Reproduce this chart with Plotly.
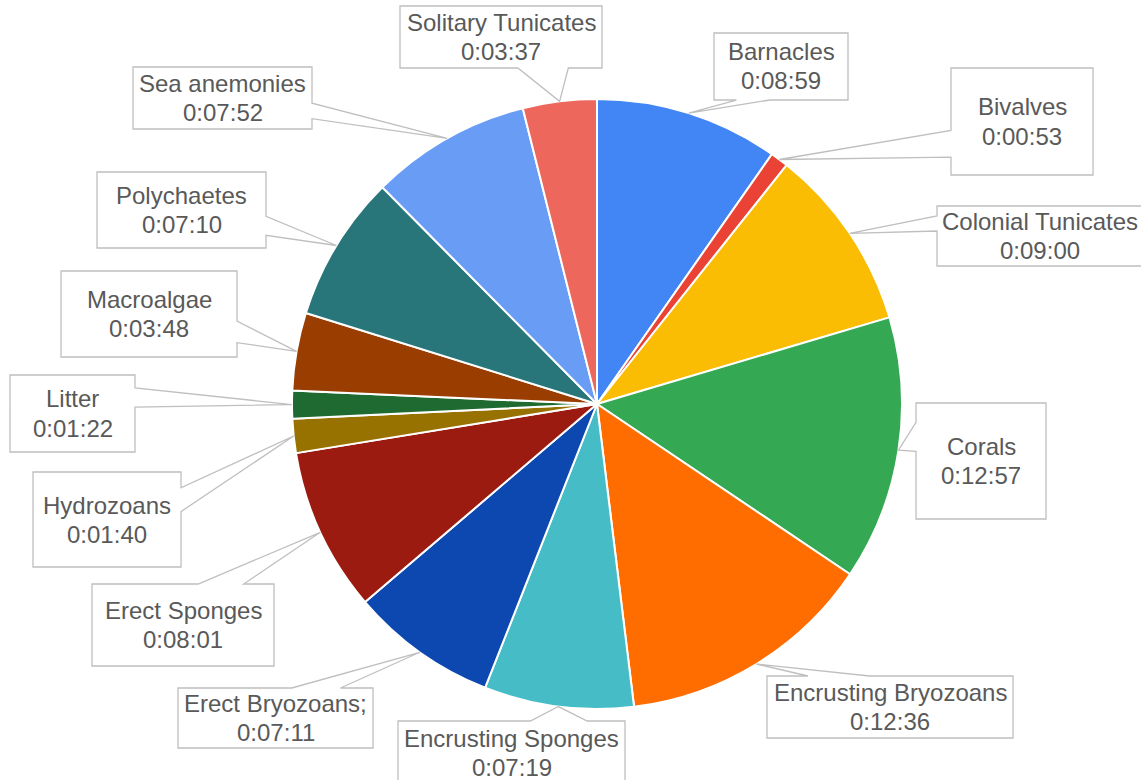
import numpy as np
import plotly.graph_objects as go

# ---------------- data ----------------
categories = ["Barnacles", "Bivalves", "Colonial Tunicates", "Corals",
              "Encrusting Bryozoans", "Encrusting Sponges", "Erect Bryozoans;",
              "Erect Sponges", "Hydrozoans", "Litter", "Macroalgae",
              "Polychaetes", "Sea anemonies", "Solitary Tunicates"]
durations = ["0:08:59", "0:00:53", "0:09:00", "0:12:57", "0:12:36", "0:07:19",
             "0:07:11", "0:08:01", "0:01:40", "0:01:22", "0:03:48", "0:07:10",
             "0:07:52", "0:03:37"]
colors = ["#4285F4", "#EA4335", "#FBBC04", "#34A853", "#FF6D01", "#46BDC6",
          "#0C48B0", "#9B1B11", "#987200", "#1F6A30", "#993E00", "#287679",
          "#699DF5", "#EE675C"]

# label box layout (left, top, right, bottom) in pixels
boxes = [(714, 33, 848, 100), (951, 68, 1093, 175), (937, 206, 1143, 266),
         (916, 403, 1046, 519), (767, 676, 1013, 738), (398, 721, 625, 784),
         (178, 688, 373, 748), (92, 584, 274, 666), (33, 472, 181, 567),
         (10, 375, 135, 452), (61, 271, 237, 357), (97, 172, 266, 248),
         (133, 67, 312, 129), (400, 6, 602, 68)]


def to_seconds(s):
    h, m, sec = (int(p) for p in s.split(":"))
    return h * 3600 + m * 60 + sec


seconds = [to_seconds(d) for d in durations]

# ---------------- layout geometry ----------------
W, H = 1141, 780
CX, CY, R = 597, 404, 305
LINE_GAP = 14.5
FONT = dict(family="Arial, Liberation Sans, sans-serif", size=24, color="#595959")


def px(x):
    return x / W


def py(y):
    return 1 - y / H


fig = go.Figure(go.Pie(
    labels=categories,
    values=seconds,
    sort=False,
    direction="clockwise",
    rotation=0,
    marker=dict(colors=colors, line=dict(color="white", width=2)),
    textinfo="none",
    hoverinfo="label+value",
    showlegend=False,
    domain=dict(x=[px(CX - R), px(CX + R)], y=[py(CY + R), py(CY - R)]),
))

# tip points at the slice mid-angles
vals = np.array(seconds, dtype=float)
cum = np.cumsum(vals)
mid = (cum - vals / 2) / vals.sum() * 2 * np.pi
tips_x = CX + R * np.sin(mid)
tips_y = CY - R * np.cos(mid)


def callout(l, t, r, b, tx, ty):
    w = r - l
    h = b - t
    cx = (l + r) / 2
    cy = (t + b) / 2
    dx = tx - cx
    dy = ty - cy
    vertical = abs(dy) > abs(dx * h / w)
    x1 = l + w * (7 if dx > 0 else 2) / 12
    x2 = l + w * (10 if dx > 0 else 5) / 12
    y1 = t + h * (7 if dy > 0 else 2) / 12
    y2 = t + h * (10 if dy > 0 else 5) / 12
    pts = [(l, t)]
    if vertical and dy < 0:
        pts += [(x1, t), (tx, ty), (x2, t)]
    pts += [(r, t)]
    if (not vertical) and dx > 0:
        pts += [(r, y1), (tx, ty), (r, y2)]
    pts += [(r, b)]
    if vertical and dy > 0:
        pts += [(x2, b), (tx, ty), (x1, b)]
    pts += [(l, b)]
    if (not vertical) and dx <= 0:
        pts += [(l, y2), (tx, ty), (l, y1)]
    return pts


shapes = []
annotations = []
for name, dur, box, tx, ty in zip(categories, durations, boxes, tips_x, tips_y):
    l, t, r, b = box
    pts = callout(l, t, r, b, tx, ty)
    path = "M " + " L ".join(f"{px(x):.5f},{py(y):.5f}" for x, y in pts) + " Z"
    shapes.append(dict(type="path", xref="paper", yref="paper", path=path,
                       fillcolor="white", line=dict(color="#BFBFBF", width=1.3),
                       layer="above"))
    cxm = (l + r) / 2
    cym = (t + b) / 2
    for text, yy in ((name, cym - LINE_GAP), (dur, cym + LINE_GAP)):
        annotations.append(dict(x=px(cxm), y=py(yy), xref="paper", yref="paper",
                                text=text, showarrow=False,
                                xanchor="center", yanchor="middle", align="center",
                                font=FONT))

fig.update_layout(
    width=W, height=H,
    margin=dict(l=0, r=0, t=0, b=0),
    paper_bgcolor="white",
    plot_bgcolor="white",
    shapes=shapes,
    annotations=annotations,
)

fig.write_html("out.html", config={"displayModeBar": False},
               post_script="document.body.style.margin='0';document.body.style.overflow='hidden';")
